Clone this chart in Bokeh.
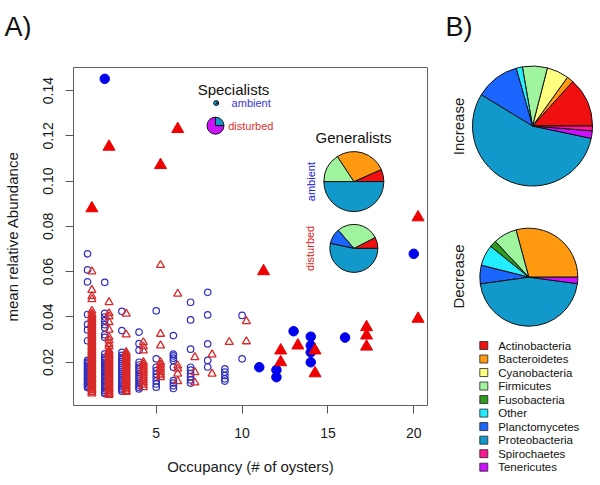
import numpy as np
from bokeh.plotting import figure
from bokeh.models import Range1d, FixedTicker, PrintfTickFormatter, ColumnDataSource
from bokeh.transform import dodge
from bokeh.layouts import row, column
from bokeh.embed import file_html
from bokeh.resources import INLINE
from bokeh.core.properties import value

FONT = "Liberation Sans"

# ---------------- taxa / colours ----------------
taxa = ["Actinobacteria", "Bacteroidetes", "Cyanobacteria", "Firmicutes", "Fusobacteria",
        "Other", "Planctomycetes", "Proteobacteria", "Spirochaetes", "Tenericutes"]
taxa_colors = ["#f01010", "#ff9a10", "#ffff80", "#9ef59e", "#2e9a1e",
               "#22eeff", "#1a66ff", "#1199cc", "#ff1493", "#cc11ff"]

# ---------------- panel A scatter data ----------------
# specialists (open symbols): occupancy -> mean relative abundance values
spec_ambient = {
    1: [0.0679, 0.0608, 0.0555, 0.0411, 0.0367, 0.0343, 0.0295, 0.0208, 0.0201, 0.0195, 0.0188,
        0.0182, 0.0175, 0.0169, 0.0162, 0.0156, 0.0149, 0.0143, 0.0137, 0.0130, 0.0124, 0.0118,
        0.0111, 0.0105, 0.0099, 0.0093, 0.0088],
    2: [0.0553, 0.0416, 0.0400, 0.0384, 0.0366, 0.0352, 0.0322, 0.0310, 0.0237, 0.0222, 0.0214,
        0.0207, 0.0199, 0.0191, 0.0184, 0.0177, 0.0169, 0.0162, 0.0155, 0.0148, 0.0140, 0.0133,
        0.0126, 0.0119, 0.0112, 0.0104, 0.0097, 0.0090, 0.0083, 0.0076, 0.0068, 0.0062],
    3: [0.0425, 0.0340, 0.0244, 0.0230, 0.0221, 0.0212, 0.0203, 0.0194, 0.0185, 0.0176, 0.0167,
        0.0158, 0.0149, 0.0140, 0.0131, 0.0122, 0.0113, 0.0104, 0.0095, 0.0086, 0.0079, 0.0072],
    4: [0.0333, 0.0282, 0.0253, 0.0200, 0.0188, 0.0178, 0.0168, 0.0158, 0.0148, 0.0138, 0.0128,
        0.0118, 0.0108, 0.0099, 0.0090, 0.0082],
    5: [0.0427, 0.0215, 0.0178, 0.0163, 0.0148, 0.0133, 0.0118, 0.0104, 0.0090],
    6: [0.0318, 0.0236, 0.0228, 0.0218, 0.0208, 0.0178, 0.0119, 0.0108, 0.0096, 0.0084],
    7: [0.0465, 0.0387, 0.0258, 0.0178, 0.0165, 0.0150, 0.0136, 0.0122, 0.0108],
    8: [0.0509, 0.0409, 0.0281, 0.0208, 0.0179],
    9: [0.0171, 0.0156, 0.0141, 0.0127, 0.0117],
    10: [0.0407, 0.0215],
}
spec_disturbed = {
    1: [0.0601, 0.0519, 0.0492, 0.0478, 0.0427, 0.0414, 0.0406, 0.0398, 0.0392, 0.0384, 0.0377,
        0.0371, 0.0363, 0.0355, 0.0349, 0.0342, 0.0336, 0.0328, 0.0321, 0.0315, 0.0307, 0.0301,
        0.0293, 0.0286, 0.0280, 0.0272, 0.0266, 0.0258, 0.0251, 0.0245, 0.0237, 0.0230, 0.0224,
        0.0216, 0.0209, 0.0203, 0.0195, 0.0188, 0.0182, 0.0174, 0.0167, 0.0161, 0.0153, 0.0146,
        0.0140, 0.0132, 0.0125, 0.0119, 0.0111, 0.0104, 0.0098, 0.0090, 0.0083, 0.0077, 0.0069,
        0.0062],
    2: [0.0465, 0.0416, 0.0402, 0.0377, 0.0343, 0.0310, 0.0296, 0.0281, 0.0269, 0.0252, 0.0246,
        0.0239, 0.0233, 0.0226, 0.0219, 0.0213, 0.0207, 0.0200, 0.0194, 0.0187, 0.0181, 0.0174,
        0.0168, 0.0161, 0.0155, 0.0149, 0.0142, 0.0136, 0.0129, 0.0123, 0.0116, 0.0110, 0.0103,
        0.0097, 0.0091, 0.0084, 0.0078, 0.0071, 0.0065, 0.0059, 0.0055],
    3: [0.0414, 0.0322, 0.0244, 0.0236, 0.0229, 0.0221, 0.0214, 0.0206, 0.0199, 0.0191, 0.0184,
        0.0176, 0.0169, 0.0161, 0.0154, 0.0146, 0.0139, 0.0131, 0.0124, 0.0116, 0.0109, 0.0101,
        0.0094, 0.0086, 0.0079, 0.0072, 0.0068],
    4: [0.0288, 0.0269, 0.0252, 0.0200, 0.0190, 0.0180, 0.0170, 0.0160, 0.0150, 0.0140, 0.0130,
        0.0120, 0.0110, 0.0100, 0.0089],
    5: [0.0629, 0.0325, 0.0274, 0.0200, 0.0189, 0.0178, 0.0167, 0.0156, 0.0145, 0.0134],
    6: [0.0502, 0.0185, 0.0171, 0.0149, 0.0116],
    7: [0.0222, 0.0156, 0.0110],
    8: [0.0234, 0.0149],
    9: [0.0289],
    10: [0.0381, 0.0292],
}
# generalists (filled symbols)
gen_ambient_occ = [2, 11, 12, 12, 13, 14, 14, 14, 14, 16, 20]
gen_ambient_abund = [0.1452, 0.0178, 0.0166, 0.0134, 0.0337, 0.0313, 0.0274, 0.0244, 0.0200, 0.0309, 0.0679]
gen_disturbed_occ = [1, 2, 5, 6, 11, 12, 12, 13, 14, 14, 17, 17, 17, 20, 20]
gen_disturbed_abund = [0.0880, 0.1152, 0.1071, 0.1230, 0.0602, 0.0252, 0.0200, 0.0274, 0.0252,
                       0.0151, 0.0355, 0.0318, 0.0269, 0.0840, 0.0392]

x_ticks = [5, 10, 15, 20]
y_ticks = [0.02, 0.04, 0.06, 0.08, 0.10, 0.12, 0.14]

# ---------------- pie data (taxon, fraction) in drawing order ----------------
pie_spec_ambient_taxa = ["Proteobacteria"]
pie_spec_ambient_frac = [1.0]
pie_spec_disturbed_taxa = ["Proteobacteria", "Tenericutes"]
pie_spec_disturbed_frac = [0.25, 0.75]
pie_gen_ambient_taxa = ["Actinobacteria", "Bacteroidetes", "Firmicutes", "Proteobacteria"]
pie_gen_ambient_frac = [0.066, 0.277, 0.157, 0.500]
pie_gen_disturbed_taxa = ["Actinobacteria", "Firmicutes", "Planctomycetes", "Proteobacteria"]
pie_gen_disturbed_frac = [0.075, 0.288, 0.104, 0.533]
pie_increase_taxa = ["Actinobacteria", "Bacteroidetes", "Cyanobacteria", "Firmicutes", "Other",
                     "Planctomycetes", "Proteobacteria", "Tenericutes", "Spirochaetes"]
pie_increase_frac = [0.133, 0.018, 0.059, 0.067, 0.017, 0.119, 0.554, 0.020, 0.013]
pie_decrease_taxa = ["Bacteroidetes", "Firmicutes", "Fusobacteria", "Other", "Planctomycetes",
                     "Proteobacteria", "Tenericutes"]
pie_decrease_frac = [0.292, 0.078, 0.022, 0.069, 0.061, 0.457, 0.021]


def flatten(d):
    xs, ys = [], []
    for k, vals in d.items():
        xs += [k] * len(vals)
        ys += vals
    return xs, ys


def draw_pie(fig, x, y, radius, names, fracs):
    fr = np.array(fracs, dtype=float)
    fr = fr / fr.sum()
    ends = np.cumsum(fr) * 2 * np.pi
    starts = ends - fr * 2 * np.pi
    cols = [taxa_colors[taxa.index(n)] for n in names]
    src = ColumnDataSource(dict(x=[x] * len(names), y=[y] * len(names), s=list(starts),
                                e=list(ends), c=cols))
    fig.wedge(x="x", y="y", radius=radius, radius_units="screen", start_angle="s", end_angle="e",
              fill_color="c", line_color="#111111", line_width=1, source=src)


def blank_fig(w, h):
    f = figure(width=w, height=h, x_range=Range1d(0, w), y_range=Range1d(0, h),
               output_backend="svg", toolbar_location=None,
               min_border_left=0, min_border_right=0, min_border_top=0, min_border_bottom=0,
               x_axis_type=None, y_axis_type=None)
    f.frame_align = False
    f.background_fill_color = "white"
    f.border_fill_color = "white"
    f.outline_line_color = None
    f.xgrid.visible = False
    f.ygrid.visible = False
    return f


# ---------------- header strip with the "A)" tag ----------------
hdr = blank_fig(440, 40)
hdr.text(x=[4], y=[14], text=["A)"], text_font=value(FONT), text_font_size="27px",
         text_align="left", text_baseline="middle", text_color="#111111")

# ---------------- panel A ----------------
p = figure(width=440, height=445, x_range=Range1d(0.18, 20.8), y_range=Range1d(0.0009, 0.1502),
           output_backend="svg", toolbar_location=None,
           min_border_left=73, min_border_right=13, min_border_top=27, min_border_bottom=80)
p.frame_align = False
p.background_fill_color = "white"
p.border_fill_color = "white"
p.outline_line_color = "#606060"
p.outline_line_width = 1
p.xgrid.visible = False
p.ygrid.visible = False

for ax in (p.xaxis[0], p.yaxis[0]):
    ax.axis_line_color = None
    ax.major_tick_line_color = "#555555"
    ax.major_tick_out = 8
    ax.major_tick_in = 0
    ax.minor_tick_line_color = None
    ax.major_label_text_font = FONT
    ax.major_label_text_font_size = "14px"
    ax.major_label_text_color = "#1a1a1a"
    ax.axis_label_text_font = FONT
    ax.axis_label_text_font_size = "15px"
    ax.axis_label_text_font_style = "normal"
    ax.axis_label_text_color = "#1a1a1a"

p.xaxis.ticker = FixedTicker(ticks=x_ticks)
p.xaxis.axis_label = "Occupancy (# of oysters)"
p.xaxis.major_label_standoff = 14
p.xaxis.axis_label_standoff = 17

p.yaxis.ticker = FixedTicker(ticks=y_ticks)
p.yaxis.formatter = PrintfTickFormatter(format="%.2f")
p.yaxis.axis_label = "mean relative Abundance"
p.yaxis.major_label_orientation = "vertical"
p.yaxis.major_label_standoff = 12
p.yaxis.axis_label_standoff = 20

sa_x, sa_y = flatten(spec_ambient)
sd_x, sd_y = flatten(spec_disturbed)
src_sa = ColumnDataSource(dict(x=sa_x, y=sa_y))
src_sd = ColumnDataSource(dict(x=sd_x, y=sd_y))
src_ga = ColumnDataSource(dict(x=gen_ambient_occ, y=gen_ambient_abund))
src_gd = ColumnDataSource(dict(x=gen_disturbed_occ, y=gen_disturbed_abund))

p.scatter(x="x", y="y", source=src_sa, marker="circle", size=6.5, fill_color=None,
          line_color="#2e2ec0", line_width=1.2)
p.scatter(x=dodge("x", 0.25, range=p.x_range), y="y", source=src_sd, marker="triangle", size=8,
          fill_color=None, line_color="#d82828", line_width=1.3)
p.scatter(x="x", y="y", source=src_ga, marker="circle", size=9.5, fill_color="#0000ee",
          line_color="#0000ee")
p.scatter(x=dodge("x", 0.25, range=p.x_range), y="y", source=src_gd, marker="triangle", size=12,
          fill_color="#ee0000", line_color="#ee0000")

# insets: specialists / generalists
p.text(x=[9.50], y=[0.1405], text=["Specialists"], text_font=value(FONT), text_font_size="15px",
       text_align="center", text_baseline="middle", text_color="#111111")
draw_pie(p, 8.49, 0.1345, 2.5, pie_spec_ambient_taxa, pie_spec_ambient_frac)
draw_pie(p, 8.45, 0.1245, 8.5, pie_spec_disturbed_taxa, pie_spec_disturbed_frac)
p.text(x=[9.39], y=[0.1345], text=["ambient"], text_font=value(FONT), text_font_size="11px",
       text_align="left", text_baseline="middle", text_color="#3a3ad0")
p.text(x=[9.19], y=[0.1245], text=["disturbed"], text_font=value(FONT), text_font_size="11px",
       text_align="left", text_baseline="middle", text_color="#dd3030")

p.text(x=[16.49], y=[0.1193], text=["Generalists"], text_font=value(FONT), text_font_size="15px",
       text_align="center", text_baseline="middle", text_color="#111111")
draw_pie(p, 16.51, 0.0998, 30, pie_gen_ambient_taxa, pie_gen_ambient_frac)
draw_pie(p, 16.51, 0.0703, 24, pie_gen_disturbed_taxa, pie_gen_disturbed_frac)
p.text(x=[14.04], y=[0.0998], text=["ambient"], text_font=value(FONT), text_font_size="11px",
       text_align="center", text_baseline="middle", text_color="#2020dd", angle=np.pi / 2)
p.text(x=[13.98], y=[0.0703], text=["disturbed"], text_font=value(FONT), text_font_size="11px",
       text_align="center", text_baseline="middle", text_color="#dd2020", angle=np.pi / 2)

# ---------------- panel B ----------------
q = blank_fig(160, 485)
q.text(x=[5], y=[459], text=["B)"], text_font=value(FONT), text_font_size="27px",
       text_align="left", text_baseline="middle", text_color="#111111")
draw_pie(q, 92, 359.5, 60, pie_increase_taxa, pie_increase_frac)
draw_pie(q, 88.3, 208.3, 49, pie_decrease_taxa, pie_decrease_frac)
q.text(x=[18], y=[359], text=["Increase"], text_font=value(FONT), text_font_size="15px",
       text_align="center", text_baseline="middle", text_color="#1a1a1a", angle=np.pi / 2)
q.text(x=[18], y=[209], text=["Decrease"], text_font=value(FONT), text_font_size="15px",
       text_align="center", text_baseline="middle", text_color="#1a1a1a", angle=np.pi / 2)

leg_y = [140 - i * 13.52 for i in range(len(taxa))]
q.rect(x=[43.3] * len(taxa), y=leg_y, width=8, height=8, width_units="screen",
       height_units="screen", fill_color=taxa_colors, line_color="#222222", line_width=0.8)
q.text(x=[57.7] * len(taxa), y=leg_y, text=taxa, text_font=value(FONT), text_font_size="11.5px",
       text_align="left", text_baseline="middle", text_color="#111111")

layout = row(column(hdr, p), q)
open("out.html", "w").write(file_html(layout, INLINE))
